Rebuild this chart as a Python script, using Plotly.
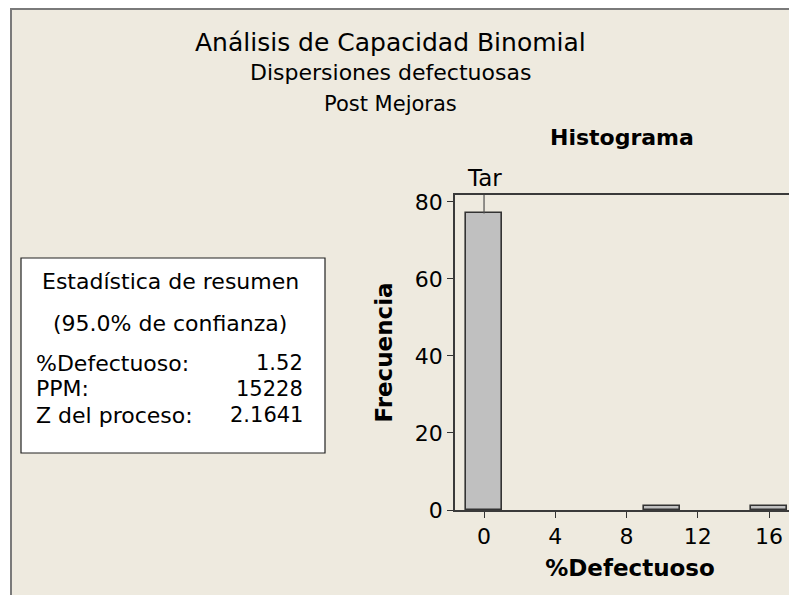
import plotly.graph_objects as go

W, H = 797, 587
OFF = 8  # page body margin

# Data
bin_centers = [0, 10, 16]
bin_counts = [77, 1, 1]
bin_width = 2
target = 0
x_ticks = [0, 4, 8, 12, 16]
y_ticks = [0, 20, 40, 60, 80]
titles = ["Análisis de Capacidad Binomial", "Dispersiones defectuosas", "Post Mejoras"]
stats_labels = ["%Defectuoso:", "PPM:", "Z del proceso:"]
stats_values = ["1.52", "15228", "2.1641"]

FONT = "DejaVu Sans, Verdana, sans-serif"
BG = "#EEEADF"

def px(x):
    return (x - OFF) / W

def py(y):
    return 1 - (y - OFF) / H

x_range = [-1.63, 18.02]
y_range = [0, 81.8]

fig = go.Figure()
fig.add_trace(go.Bar(x=bin_centers, y=bin_counts, width=bin_width,
                     marker=dict(color="#C0C0C0", line=dict(color="#333333", width=1.6)),
                     showlegend=False))
# target line (above the target bar)
tgt_bar = bin_counts[bin_centers.index(target)]
fig.add_trace(go.Scatter(x=[target, target], y=[tgt_bar, y_range[1]], mode="lines",
                         line=dict(color="#505050", width=1.2), hoverinfo="skip", showlegend=False))

fig.update_layout(
    width=W, height=H,
    margin=dict(l=0, r=0, t=0, b=0, autoexpand=False),
    paper_bgcolor="white", plot_bgcolor="white",
    font=dict(family=FONT, color="black"),
    bargap=0,
    xaxis=dict(domain=[px(455), 1], range=x_range, tickvals=x_ticks, ticks="outside", ticklen=6,
               tickcolor="#333", showline=True, linecolor="#3A3A3A", linewidth=1.6, mirror=True,
               showgrid=False, zeroline=False, tickfont=dict(size=22), automargin=False,
               title=dict(text="<b>%Defectuoso</b>", font=dict(size=23), standoff=12)),
    yaxis=dict(domain=[py(510), py(195)], range=y_range, tickvals=y_ticks, ticks="outside", ticklen=6,
               tickcolor="#333", showline=True, linecolor="#3A3A3A", linewidth=1.6,
               showgrid=False, zeroline=False, tickfont=dict(size=22), automargin=False,
               title=dict(text="<b>Frecuencia</b>", font=dict(size=23), standoff=16)),
)

shapes = [
    dict(type="rect", xref="paper", yref="paper", x0=px(11), x1=px(W + 40), y0=py(H + 60), y1=py(9),
         fillcolor=BG, line=dict(color="#7A7A7A", width=2), layer="below"),
    dict(type="rect", xref="paper", yref="paper", x0=px(21), x1=px(325), y0=py(453), y1=py(258),
         fillcolor="white", line=dict(color="#222", width=1.2), layer="above"),
]
fig.update_layout(shapes=shapes)

ann = []
for t, yy, s in zip(titles, [42, 73, 104], [25, 22, 21]):
    ann.append(dict(text=t, x=px(390), y=py(yy), xref="paper", yref="paper", showarrow=False,
                    xanchor="center", yanchor="middle", font=dict(size=s)))
ann.append(dict(text="<b>Histograma</b>", x=px(622), y=py(137), xref="paper", yref="paper",
                showarrow=False, xanchor="center", yanchor="middle", font=dict(size=22)))
ann.append(dict(text="Tar", x=target, y=py(178), xref="x", yref="paper", showarrow=False,
                xanchor="center", yanchor="middle", font=dict(size=23)))
ann.append(dict(text="Estadística de resumen", x=px(170), y=py(281), xref="paper", yref="paper",
                showarrow=False, xanchor="center", yanchor="middle", font=dict(size=22)))
ann.append(dict(text="(95.0% de confianza)", x=px(170), y=py(323), xref="paper", yref="paper",
                showarrow=False, xanchor="center", yanchor="middle", font=dict(size=22)))
for lab, val, yy in zip(stats_labels, stats_values, [363, 389, 415]):
    ann.append(dict(text=lab, x=px(34), y=py(yy), xref="paper", yref="paper", showarrow=False,
                    xanchor="left", yanchor="middle", font=dict(size=22)))
    ann.append(dict(text=val, x=px(305), y=py(yy), xref="paper", yref="paper", showarrow=False,
                    xanchor="right", yanchor="middle", font=dict(size=21)))
fig.update_layout(annotations=ann)

fig.write_html("out.html")
